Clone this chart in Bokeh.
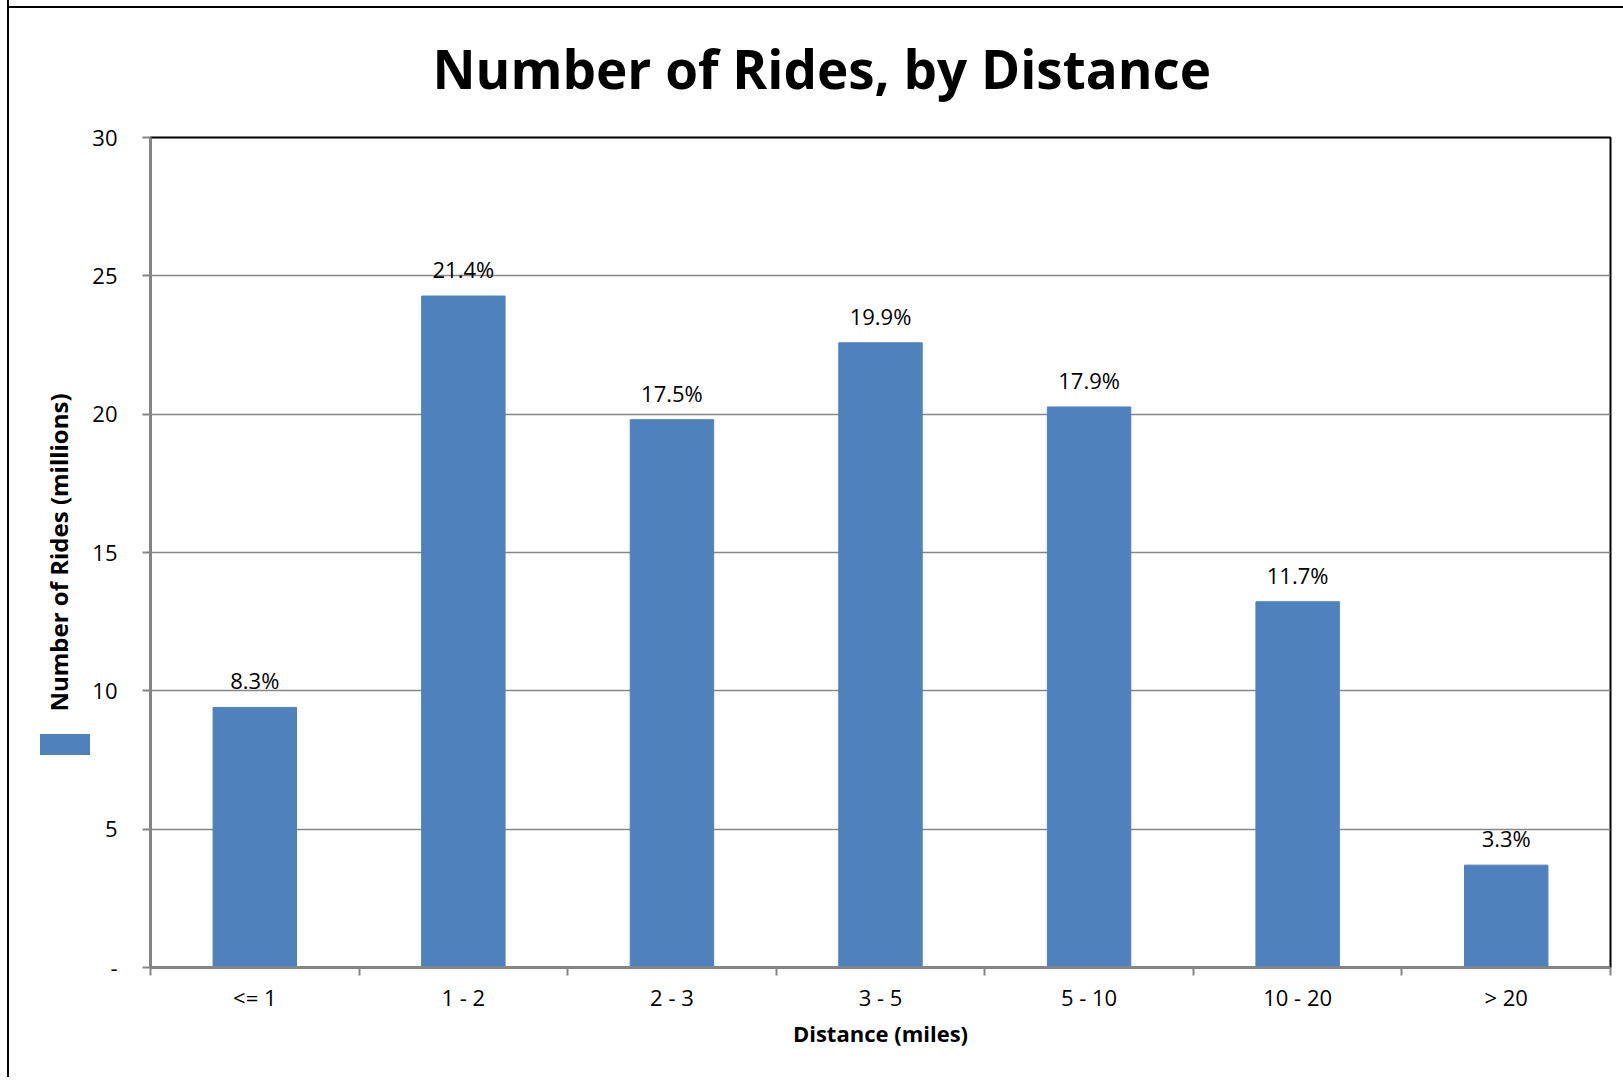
from bokeh.plotting import figure
from bokeh.models import (Range1d, FixedTicker, ColumnDataSource, Legend, LegendItem,
                          InlineStyleSheet)
from bokeh.core.properties import value
from bokeh.embed import file_html
from bokeh.resources import INLINE

categories = ["<= 1", "1 - 2", "2 - 3", "3 - 5", "5 - 10", "10 - 20", "> 20"]
rides_millions = [9.4, 24.27, 19.8, 22.58, 20.26, 13.22, 3.7]
share_pct = [8.3, 21.4, 17.5, 19.9, 17.9, 11.7, 3.3]
y_ticks = [0, 5, 10, 15, 20, 25, 30]

FONT = "Open Sans"
BLUE = "#4F81BD"
GRAY = "#868686"

xs = [i + 0.5 for i in range(len(categories))]
src = ColumnDataSource(dict(x=xs, top=rides_millions,
                            lbl=[f"{v}%" for v in share_pct]))

p = figure(output_backend="svg", toolbar_location=None,
           frame_width=1460, frame_height=830,
           min_border_left=141, min_border_right=10,
           min_border_top=120, min_border_bottom=110,
           x_range=Range1d(0, len(categories)), y_range=Range1d(0, 30),
           background_fill_color="white", border_fill_color="white")
css = (
    ":host { position: relative; margin-left: 7px; margin-top: -4px; "
    "border-left: 2px solid black; }\n"
    # outer chart-area border line along the top
    ":host::before { content: ''; display: block; position: absolute; "
    "left: -2px; right: -8px; top: 10px; height: 2px; background-color: black; "
    "z-index: 5; pointer-events: none; }\n"
    # legend key of the single series (no label text in the reference)
    ":host::after { content: ''; display: block; position: absolute; "
    "left: 31px; top: 738px; width: 50px; height: 21px; "
    "background-color: %s; z-index: 5; pointer-events: none; }" % BLUE
)
p.stylesheets = [InlineStyleSheet(css=css)]

p.title.text = "Number of Rides, by Distance"
p.title.text_font = FONT
p.title.text_font_size = "53px"
p.title.text_font_style = "bold"
p.title.text_color = "black"
p.title.align = "left"
p.title.offset = 282
p.title.standoff = 66

p.outline_line_color = "black"
p.outline_line_width = 2

bars = p.vbar(x="x", top="top", width=0.4, bottom=0, source=src,
              fill_color=BLUE, line_color=BLUE)
p.text(x="x", y="top", text="lbl", source=src, text_font=value(FONT),
       text_font_size="22px", text_align="center", text_baseline="middle",
       y_offset=-27, text_color="black")

# x axis
xa = p.xaxis[0]
xa.ticker = FixedTicker(ticks=xs, minor_ticks=list(range(len(categories) + 1)))
xa.major_label_overrides = {x: c for x, c in zip(xs, categories)}
xa.major_tick_out = 0
xa.major_tick_in = 0
xa.minor_tick_out = 8
xa.minor_tick_in = 0
xa.minor_tick_line_color = GRAY
xa.minor_tick_line_width = 2
xa.axis_line_color = GRAY
xa.axis_line_width = 2.5
xa.major_label_text_font = FONT
xa.major_label_text_font_size = "22px"
xa.major_label_text_color = "black"
xa.major_label_standoff = 6
xa.axis_label = "Distance (miles)"
xa.axis_label_text_font = FONT
xa.axis_label_text_font_size = "22px"
xa.axis_label_text_font_style = "bold"
xa.axis_label_text_color = "black"
xa.axis_label_standoff = 3

# y axis
ya = p.yaxis[0]
ya.ticker = FixedTicker(ticks=y_ticks, minor_ticks=[])
ya.major_label_overrides = {0: "-"}
ya.major_tick_out = 8
ya.major_tick_in = 0
ya.major_tick_line_color = GRAY
ya.major_tick_line_width = 2
ya.minor_tick_out = 0
ya.minor_tick_in = 0
ya.axis_line_color = GRAY
ya.axis_line_width = 2.5
ya.major_label_text_font = FONT
ya.major_label_text_font_size = "22px"
ya.major_label_text_color = "black"
ya.major_label_standoff = 25
ya.axis_label = "Number of Rides (millions)"
ya.axis_label_text_font = FONT
ya.axis_label_text_font_size = "24px"
ya.axis_label_text_font_style = "bold"
ya.axis_label_text_color = "black"
ya.axis_label_standoff = 14

p.xgrid.grid_line_color = None
p.ygrid.ticker = FixedTicker(ticks=y_ticks)
p.ygrid.grid_line_color = GRAY
p.ygrid.grid_line_width = 1.5

# same key as a Bokeh legend glyph (guide level), at the same spot
legend = Legend(items=[LegendItem(label=value(" "), renderers=[bars])],
                location=(-116.5, 210.5), padding=0, margin=0, spacing=0,
                glyph_width=63, glyph_height=26, label_standoff=0,
                label_width=0, label_text_font_size="4px", level="guide",
                border_line_color=None, background_fill_alpha=0)
p.add_layout(legend, "center")

open("out.html", "w").write(file_html(p, INLINE))
